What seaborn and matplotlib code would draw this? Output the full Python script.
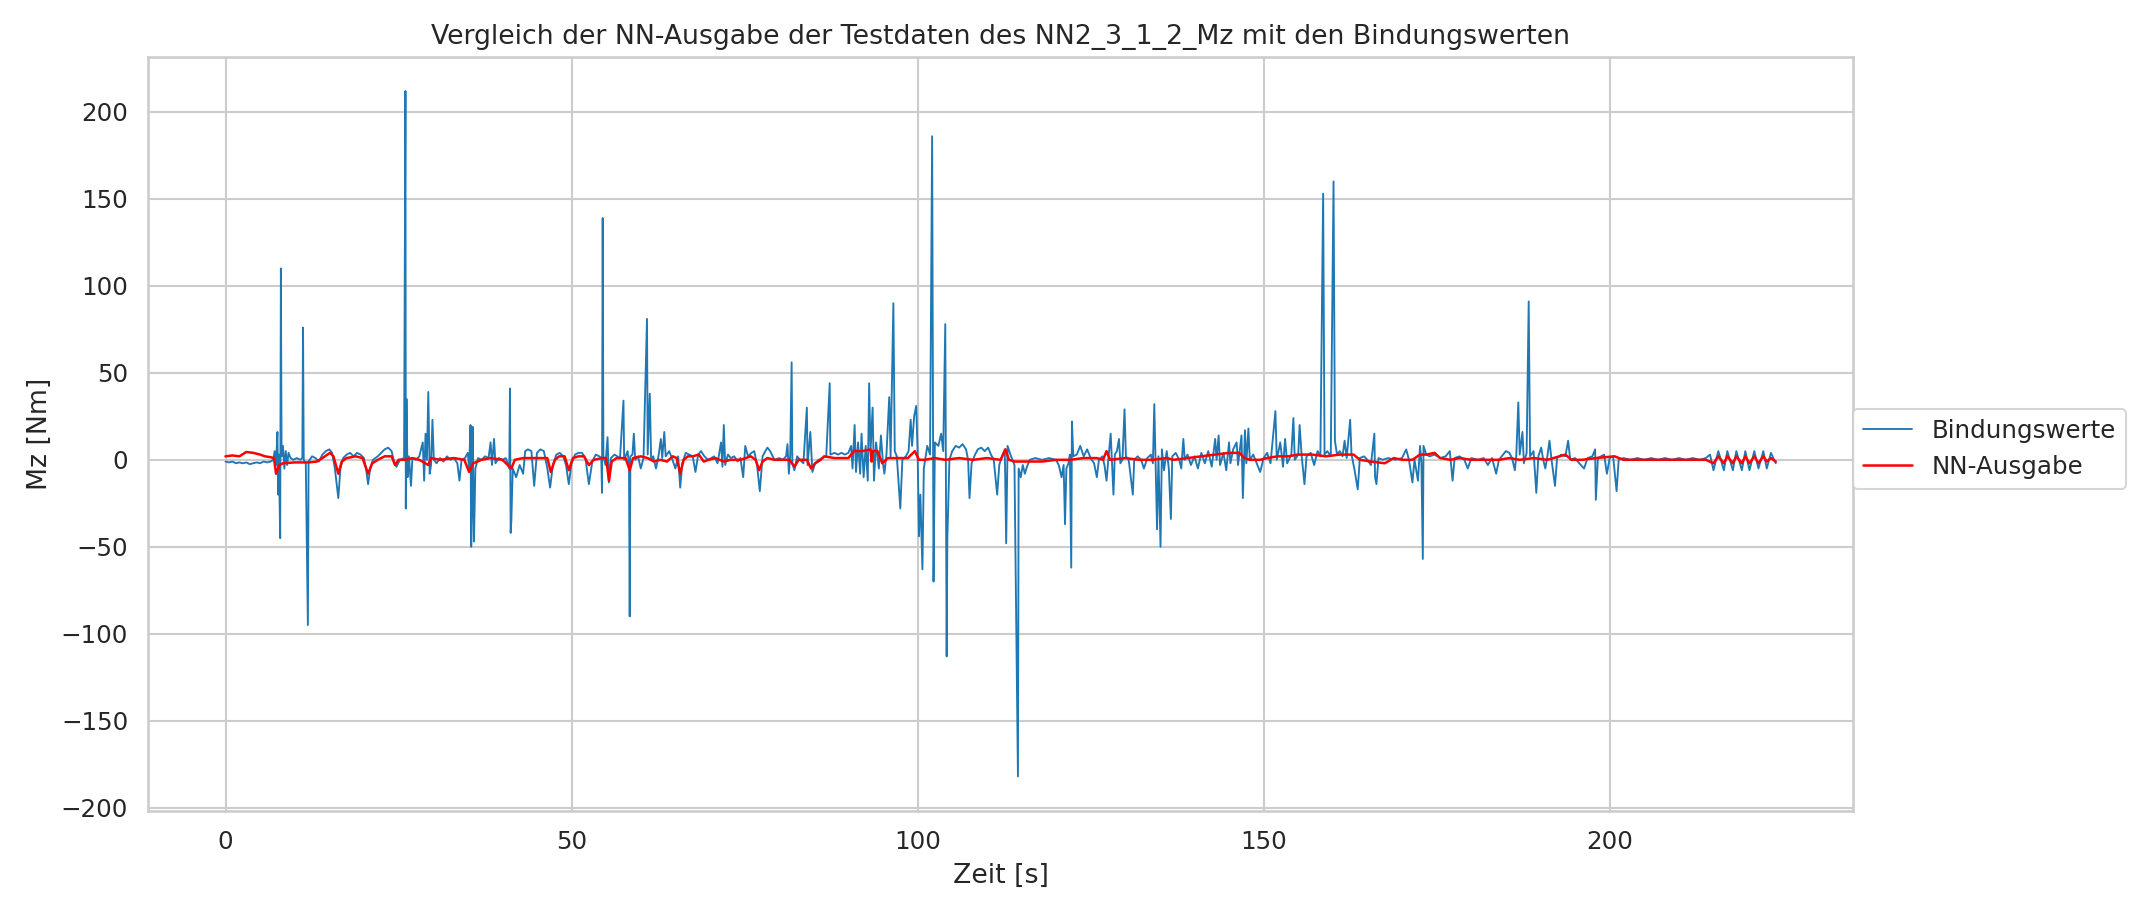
import pandas as pd
import seaborn as sns
import matplotlib.pyplot as plt

# DATA, (Zeit [s], Mz [Nm]) pairs
bind_0_25 = [
    (0, -1), (0.5, -1.5), (1, -1), (1.5, -2), (2, -1.5), (2.5, -2), (3, -1.5), (3.5, -2.5),
    (4, -2), (4.5, -1.5), (5, -2), (5.5, -1), (6, -1.5), (6.5, -1), (6.9, 0), (7.1, 5),
    (7.3, -3), (7.5, 16), (7.6, -20), (7.7, 3), (7.8, -22), (7.9, -45), (8.0, 110), (8.1, 2),
    (8.3, 8), (8.5, -5), (8.7, 5), (8.9, -3), (9.1, 4), (9.4, 1), (9.8, 0), (10.3, 1),
    (10.8, 0), (11.1, 1), (11.2, 76), (11.3, 0), (11.6, -2), (11.9, -95), (12.0, -1),
    (12.5, 2), (13, 1), (13.5, -1), (14, 3), (14.5, 5), (15, 6), (15.4, 4), (15.8, -5),
    (16.3, -22), (16.6, -5), (17, 1), (17.5, 3), (18, 4), (18.5, 2), (19, 4), (19.5, 3),
    (20, 1), (20.3, -5), (20.6, -14), (20.9, -5), (21.3, 0), (22, 2), (22.5, 4), (23, 6),
    (23.5, 7), (24, 5), (24.4, -2), (24.7, -4),
]
bind_25_50 = [
    (25.2, 0), (25.8, 1), (26.0, 212), (26.05, -28), (26.15, 35), (26.3, -10), (26.5, 2),
    (26.8, -15), (27, 1), (27.5, 0), (28, 2), (28.5, 10), (28.7, -12), (28.9, 15), (29.1, 0),
    (29.3, 39), (29.5, -8), (29.7, -3), (29.9, 23), (30.1, 0), (30.5, -2), (31, 1),
    (31.5, -1), (32, 2), (32.5, 0), (33, 1), (33.5, -2), (33.8, -12), (34.1, 0), (34.6, 1),
    (35, 4), (35.2, -5), (35.4, 20), (35.5, -50), (35.6, -30), (35.7, 19), (35.9, -47),
    (36.1, -5), (36.5, 1), (37, 0), (37.5, 2), (38, 1), (38.3, 10), (38.5, -3), (38.8, 12),
    (39, -2), (39.5, 1), (40, 0), (40.5, 1), (41.0, -5), (41.1, 41), (41.2, -42),
    (41.3, -35), (41.5, -5), (42, -10), (42.5, -3), (43, -8), (43.3, 5), (43.7, 6),
    (44.2, 5), (44.6, -15), (45, 4), (45.5, 6), (46, 5), (46.5, -5), (46.9, -16), (47.3, -3),
    (47.8, 3), (48.3, 4), (48.8, 2), (49.2, -3), (49.6, -14),
]
bind_50_75 = [
    (50, -2), (50.5, 3), (51, 4), (51.5, 4), (52, 1), (52.5, -14), (53, -1), (53.5, 3),
    (54, 2), (54.3, 1), (54.4, -19), (54.5, 139), (54.6, 2), (54.9, -3), (55.2, 13),
    (55.4, -13), (55.7, 1), (56.2, 3), (56.6, 2), (57, 1), (57.5, 34), (57.6, 0), (58.1, 5),
    (58.3, -3), (58.4, -90), (58.5, 2), (58.8, 3), (59.0, 15), (59.2, 0), (59.6, 2),
    (60, -5), (60.4, 1), (60.9, 81), (61.0, 3), (61.3, 38), (61.5, 0), (61.8, 2), (62.2, -5),
    (62.6, 3), (62.9, 12), (63.1, 1), (63.4, 16), (63.6, 2), (64.1, 5), (64.5, 1), (65.0, -5),
    (65.4, 2), (65.7, -16), (66, -2), (66.5, 4), (67, 3), (67.5, 2), (67.9, -7), (68.3, 3),
    (68.7, 5), (69.2, 2), (69.7, 0), (70.2, 1), (70.6, 2), (71.1, -2), (71.6, 10),
    (71.8, -4), (72.0, 20), (72.2, -3), (72.6, 3), (73, 1), (73.5, 2), (74, -1), (74.4, 1),
    (74.8, -10),
]
bind_75_100 = [
    (75.1, 8), (75.5, 2), (76, 4), (76.4, 5), (76.8, -3), (77.2, -18), (77.6, 2), (78, 5),
    (78.3, 7), (78.7, 5), (79.3, 0), (80, 1), (80.5, 0), (81, 2), (81.2, 9), (81.4, -8),
    (81.6, 3), (81.8, 56), (81.9, -2), (82.2, -6), (82.6, 2), (83, 0), (83.5, -2),
    (84.0, 30), (84.1, -3), (84.5, 16), (84.8, -7), (85.2, -2), (85.7, 0), (86.2, 1),
    (86.8, 2), (87.3, 44), (87.4, 3), (88, 4), (88.5, 3), (89, 4), (89.5, 3), (90, 4),
    (90.4, 8), (90.6, -5), (90.9, 20), (91.1, -7), (91.4, 10), (91.7, -8), (91.9, 15),
    (92.2, -10), (92.5, 8), (92.8, -12), (93.0, 44), (93.2, 5), (93.5, 30), (93.7, -12),
    (94, 10), (94.4, -5), (94.7, 14), (95.0, -2), (95.2, -8), (95.5, 3), (95.9, 36),
    (96.1, 2), (96.5, 90), (96.7, 5), (97.0, 2), (97.5, -28), (97.8, 0), (98.3, 2),
    (98.7, 5), (99.0, 23), (99.2, 8), (99.5, 25), (99.8, 31),
]
bind_100_125 = [
    (100.0, 5), (100.2, -44), (100.4, -20), (100.7, -63), (100.9, -5), (101.4, 8),
    (101.8, 3), (102.1, 186), (102.3, -70), (102.5, 10), (103, 8), (103.4, 15), (103.7, 5),
    (104.0, 78), (104.2, -113), (104.3, -45), (104.6, 0), (105, 5), (105.5, 8), (106, 7),
    (106.5, 9), (107, 6), (107.3, 0), (107.5, -22), (107.8, -2), (108.3, 3), (108.7, 6),
    (109.2, 7), (109.7, 5), (110.2, 7), (110.6, 3), (111.0, 0), (111.5, -20), (111.8, -3),
    (112.2, 2), (112.6, 6), (112.8, -48), (113.0, 8), (113.5, 2), (114, -3), (114.5, -182),
    (114.6, -5), (114.9, -10), (115.2, -3), (115.5, -8), (115.8, -4), (116.2, 0), (117, 1),
    (118, 0), (119, 1), (120, 0), (120.4, -3), (120.8, -10), (121.1, -3), (121.3, -37),
    (121.5, -5), (121.8, -2), (122.0, 3), (122.2, -62), (122.3, 22), (122.5, 2), (123, 3),
    (123.5, 8), (124, 2), (124.5, 6),
]
bind_125_150 = [
    (125, 1), (125.5, -2), (125.9, -10), (126.2, 0), (126.7, 2), (127.0, -3), (127.3, -12),
    (127.6, 2), (127.9, 15), (128.1, -2), (128.3, -20), (128.5, 3), (128.8, 5), (129.1, 12),
    (129.3, -2), (129.6, 0), (129.9, 29), (130.1, 2), (130.5, 0), (131.1, -20), (131.3, 0),
    (131.8, 2), (132.3, 0), (132.7, -5), (133.2, 1), (133.7, 3), (134.0, -2), (134.2, 32),
    (134.4, -3), (134.6, -40), (134.8, 2), (135.1, -50), (135.3, 6), (135.6, -6), (136, 5),
    (136.3, -5), (136.6, -34), (136.8, 2), (137.3, 4), (137.8, 0), (138.1, -5), (138.4, 12),
    (138.6, 0), (139, 3), (139.5, -3), (140, 2), (140.5, -5), (141, 4), (141.5, -2),
    (142, 5), (142.5, -4), (143.0, 12), (143.2, 0), (143.5, 14), (143.7, -3), (144.2, 4),
    (144.6, -6), (145.0, 10), (145.2, -2), (145.6, 6), (146.1, 10), (146.3, -3), (146.8, 14),
    (147.0, -22), (147.3, 17), (147.5, -2), (147.8, 18), (148, 0), (148.5, 3), (149, -2),
    (149.5, -7),
]
bind_150_175 = [
    (150, 1), (150.5, 4), (151, -2), (151.7, 28), (151.9, 0), (152.4, 10), (152.8, -4),
    (153.1, 12), (153.4, -2), (154.0, 3), (154.3, 24), (154.5, 0), (155.0, 3), (155.2, 20),
    (155.5, 2), (155.9, -14), (156.2, 2), (156.8, 4), (157.3, -3), (157.8, 5), (158.2, 2),
    (158.6, 153), (158.8, 3), (159.2, 5), (159.7, 2), (160.1, 160), (160.3, 11), (160.6, 3),
    (161.0, 5), (161.4, 2), (161.7, 11), (162.0, 1), (162.5, 23), (162.7, 3), (163.1, -5),
    (163.6, -17), (163.9, 1), (164.5, 2), (165, 0), (165.5, -3), (166.0, 15), (166.1, -10),
    (166.3, -14), (166.6, 1), (167.2, 0), (168, 1), (169, 0), (170, 1), (170.6, 6), (171, 0),
    (171.5, -13), (171.8, 0), (172.3, -12), (172.6, 8), (172.8, -2), (173.0, -57),
    (173.1, 8), (173.5, 3), (174, 2), (174.7, 3),
]
bind_175_200 = [
    (175.5, 1), (176.3, 2), (176.9, 5), (177.3, -12), (177.6, 1), (178.3, 2), (179, 0),
    (179.5, -5), (180, 1), (181, 0), (181.8, 1), (182.4, -3), (183, 1), (183.6, -8),
    (184, 0), (184.6, 3), (185, 5), (185.5, 4), (185.9, 1), (186.3, -6), (186.5, 2),
    (186.8, 33), (187.0, 3), (187.4, 16), (187.6, -2), (188.0, 4), (188.3, 91), (188.5, 2),
    (189.0, 5), (189.4, -19), (189.7, 2), (190.1, 7), (190.4, 0), (190.7, -5), (191.0, 2),
    (191.3, 11), (191.6, 0), (192.1, -15), (192.4, 1), (193, 3), (193.6, 2), (194.0, 11),
    (194.3, 0), (195, 1), (195.6, -2), (196.3, -5), (196.8, 1), (197.5, 2), (197.9, 6),
    (198.0, -23), (198.3, 1), (199.2, 3), (199.6, -8),
]
bind_200_224 = [
    (200, 1), (200.5, 2), (201.0, -18), (201.3, 0), (202, 1), (203, 0), (204, 1), (205, 0),
    (206, 1), (207, 0), (208, 1), (209, 0), (210, 1), (211, 0), (212, 1), (213, 0),
    (213.9, 1), (214.5, 3), (215.0, -6), (215.7, 5), (216.5, -6), (217.0, 5), (217.8, -6),
    (218.3, 5), (219.1, -6), (219.6, 5), (220.2, -6), (220.9, 5), (221.5, -5), (222.2, 5),
    (222.7, -5), (223.3, 4), (224.0, -2),
]

nn_0_75 = [
    (0, 2), (1, 2.5), (2, 2), (3, 4.5), (4, 4), (5, 3), (5.7, 2), (6.5, 1.5), (7.0, 1),
    (7.3, -8), (7.8, -3), (8.3, -2), (10, -1.5), (12, -1.5), (13.2, -1), (14, 1), (15.1, 4),
    (15.6, 2), (16.3, -8), (16.8, -1), (17.5, 1), (18.8, 2), (19.8, 1), (20.6, -8),
    (21.2, -2), (22, 0), (23, 2), (24.0, 2), (24.5, -3), (25, 0), (26, 0), (27, 1), (28, 0),
    (29.3, -3), (29.7, 1), (31, 0), (33, 1), (34.5, 0), (35.2, -7), (35.8, -2), (37, 0),
    (38.3, 1), (40, 0), (41.3, -5), (41.8, 0), (43, 1), (44.8, 1), (45.5, 1), (46.5, 1),
    (47.0, -7), (47.6, 0), (48.2, 2), (49.0, 2), (49.6, -6), (50.2, 1), (51, 2), (51.8, 2),
    (52.5, -3), (53.2, 0), (54.5, 1), (55.0, 1), (55.4, -12), (55.8, -1), (56.5, 1),
    (57.8, 1), (58.4, -6), (58.9, 1), (60, 2), (61, 1), (61.9, -1), (62.8, 0), (63.8, -1),
    (64.6, 2), (65.2, 1), (65.7, -8), (66.2, 0), (66.8, 2), (67.5, 2), (68.4, 3), (69.1, -1),
    (69.8, 0), (70.8, 1), (72.0, -1), (73, 0), (74.4, 0),
]
nn_75_150 = [
    (75.9, 2), (76.6, 0), (77.1, -6), (77.6, -1), (78.3, 1), (79.3, 0), (80.5, 0), (81.5, 0),
    (82.2, -4), (82.8, 0), (84.0, 0), (84.6, -5), (85.2, -2), (86.0, 0), (86.5, 2), (88, 1),
    (89, 1), (90, 1), (90.8, 5), (92, 5), (93.2, 6), (93.35, -1), (93.5, 5), (94.2, 5),
    (94.9, -2), (95.7, 1), (97, 1), (98.6, 1), (99.6, 5), (100.2, 0), (101, 0), (102.5, 1),
    (104, 0), (106, 1), (108, 0), (110, 1), (112.0, 0), (112.7, 6), (113.2, 0), (114, -1),
    (116, -1), (118, -1), (120, 0), (122, 0), (124, 1), (125.9, 1), (126.8, 0), (127.3, 5),
    (127.8, 0), (130, 1), (132, 0), (134, 0), (136, 1), (137, 0), (139, 1), (141, 2),
    (143, 3), (145, 4), (146.5, 4), (147.2, 1), (148, 0), (149.5, 0),
]
nn_150_224 = [
    (150.5, 1), (152, 2), (153.5, 2), (155, 3), (157, 3), (159, 2), (161, 3), (163, 3),
    (163.9, 0), (165.5, -1), (167.5, -2), (168.8, 1), (170, 0), (171.5, 0), (172.6, 3),
    (173.5, 3), (174.7, 4), (175.5, 1), (177, 0), (178.3, 1), (180, 0), (182, 0), (184, 0),
    (185.5, 1), (187, 0), (189, 1), (191, 0), (193.6, 3), (194.5, 0), (196, 0), (198, 1),
    (200.7, 2), (202, 0), (206, 0), (210, 0), (213.9, 0), (215.0, -2), (215.7, 2),
    (216.5, -2), (217.0, 2), (217.8, -2), (218.3, 2), (219.1, -2), (219.6, 2), (220.2, -2),
    (220.9, 2), (221.5, -2), (222.2, 2), (222.7, -1), (223.3, 1), (224.0, -1),
]

bind = (bind_0_25 + bind_25_50 + bind_50_75 + bind_75_100 + bind_100_125
        + bind_125_150 + bind_150_175 + bind_175_200 + bind_200_224)
nn = nn_0_75 + nn_75_150 + nn_150_224

df_bind = pd.DataFrame(bind, columns=["Zeit", "Mz"])
df_nn = pd.DataFrame(nn, columns=["Zeit", "Mz"])

sns.set_theme(style="whitegrid", context="notebook", font_scale=1.07)

fig, ax = plt.subplots(figsize=(14.3, 6.1), dpi=150)
sns.lineplot(data=df_bind, x="Zeit", y="Mz", ax=ax, color="#1f77b4", linewidth=0.9,
             sort=False, estimator=None, label="Bindungswerte")
sns.lineplot(data=df_nn, x="Zeit", y="Mz", ax=ax, color="red", linewidth=1.2,
             sort=False, estimator=None, label="NN-Ausgabe")

ax.set_title("Vergleich der NN-Ausgabe der Testdaten des NN2_3_1_2_Mz mit den Bindungswerten")
ax.set_xlabel("Zeit [s]")
ax.set_ylabel("Mz [Nm]")
ax.legend(loc="center left", bbox_to_anchor=(1, 0.48), borderaxespad=0)

fig.subplots_adjust(left=0.069, right=0.864, top=0.938, bottom=0.114)
plt.savefig("out.png", dpi=150)
plt.close()
